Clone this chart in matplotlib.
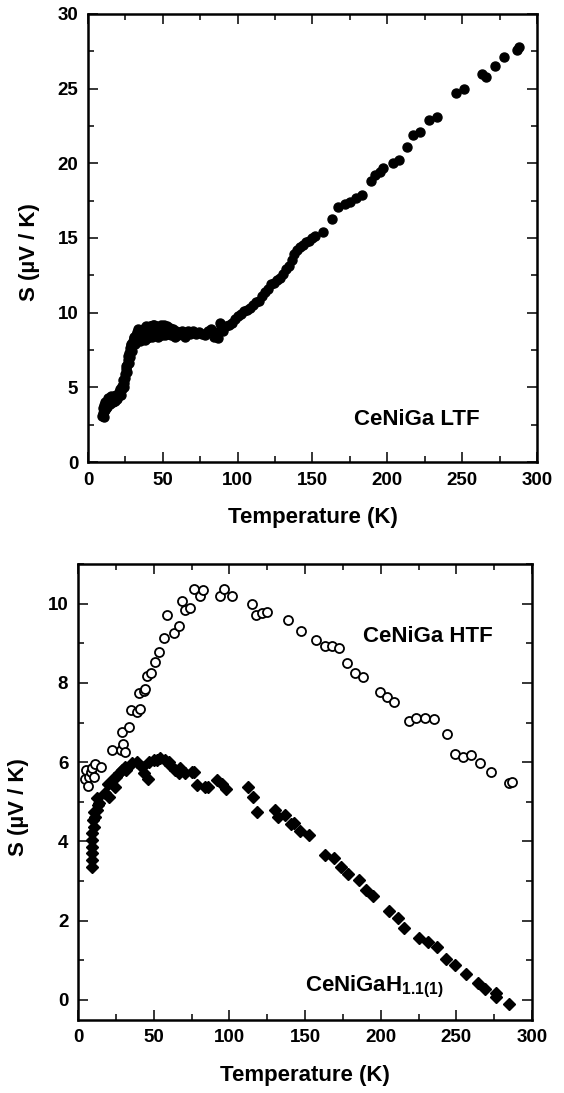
import matplotlib
matplotlib.use("Agg")
import matplotlib.pyplot as plt
from matplotlib.ticker import MultipleLocator

# CeNiGa LTF (top panel)
ltf_T = [9.5, 10.0, 10.2, 10.5, 11, 11.5, 12, 12.5, 13, 14, 15, 16, 17, 18, 19, 20,
         21, 22, 23, 24, 24.5, 25, 25.5, 26, 26.5, 27, 27.5, 28, 29, 30, 30.5, 31,
         32, 33, 34, 35, 36, 37, 38, 39, 40, 41, 42, 43, 44, 45, 46, 47, 48, 49,
         50, 51, 52, 53, 54, 55, 56, 57, 58, 59, 60, 62, 64, 66, 68, 70, 72, 74,
         76, 78, 80, 82, 84, 86, 87, 88, 89, 90, 92, 94, 96, 98, 100, 102, 104,
         106, 108, 110, 112, 114, 116, 118, 120, 122, 124, 126, 128, 130, 132,
         134, 136, 138, 140, 142, 144, 146, 148, 150, 152, 157, 163, 167, 172,
         175, 179, 183, 189, 192, 195, 197, 204, 208, 213, 217, 222, 228, 233,
         246, 251, 263, 266, 272, 278, 287, 288,
         10.8, 11.2, 12.2, 13.5, 14.5, 15.5, 16.5, 17.5, 18.5, 19.5, 20.5, 21.5,
         22.5, 23.5, 24.2, 25.2, 26.2, 27.2, 28.2, 28.8, 29.5, 31.5, 32.5, 33.5,
         34.5, 35.5, 36.5, 37.5, 38.5, 39.5, 40.5, 41.5, 42.5, 43.5, 44.5, 45.5,
         46.5, 47.5, 48.5, 49.5, 50.5, 51.5, 52.5, 53.5, 54.5, 55.5, 57.5, 61, 63,
         65, 67]
ltf_S = [3.1, 3.3, 3.6, 3.0, 3.8, 3.5, 3.9, 3.7, 4.0, 4.1, 3.9, 4.2, 4.3, 4.1, 4.3, 4.4,
         4.6, 4.5, 4.9, 5.3, 5.6, 5.9, 6.2, 6.5, 6.8, 7.1, 7.3, 7.6, 7.8, 8.1, 8.4, 8.3,
         8.5, 8.7, 8.4, 8.8, 8.5, 8.9, 8.2, 8.8, 9.0, 8.6, 9.1, 8.8, 9.2, 8.5, 8.9, 9.0, 8.6, 9.1,
         8.8, 9.0, 8.6, 9.1, 8.7, 8.9, 8.6, 8.9, 8.4, 8.8, 8.5, 8.7, 8.6, 8.7, 8.6, 8.8, 8.6, 8.7,
         8.6, 8.5, 8.8, 8.9, 8.4, 8.7, 8.3, 9.3, 9.2, 8.8, 9.1, 9.2, 9.3, 9.6, 9.8, 9.9, 10.1,
         10.2, 10.3, 10.5, 10.7, 10.8, 11.1, 11.4, 11.6, 11.9, 12.0, 12.2, 12.3, 12.6, 12.9,
         13.1, 13.5, 13.9, 14.2, 14.4, 14.5, 14.7, 14.8, 15.0, 15.1, 15.4, 16.3, 17.1, 17.3,
         17.4, 17.7, 17.9, 18.8, 19.2, 19.4, 19.7, 20.0, 20.2, 21.1, 21.9, 22.1, 22.9, 23.1,
         24.7, 25.0, 26.0, 25.8, 26.5, 27.1, 27.6, 27.8,
         3.4, 4.0, 3.6, 4.3, 4.0, 4.4, 4.0, 4.4, 4.5, 4.2, 4.7, 4.9,
         5.1, 5.5, 5.0, 6.4, 6.0, 6.6, 7.0, 7.9, 7.4, 7.9, 8.1, 8.9,
         8.1, 8.3, 8.7, 8.3, 9.1, 8.3, 8.4, 9.1, 8.4, 9.2, 8.6, 9.1,
         8.4, 8.7, 9.2, 8.5, 9.2, 8.5, 8.9, 8.6, 9.0, 8.5, 8.6, 8.6, 8.8,
         8.4, 8.8]

# CeNiGa HTF (bottom panel, open circles)
htf_T = [4.5, 5.5, 6.5, 7.0, 8.5, 9.5, 10.5, 11.5, 15.0, 22.2, 28.5, 29.5, 31.0, 29.0,
         33.5, 35.3, 39.3, 41.2, 40.1, 43.4, 44.5, 45.6, 48.5, 51.1, 53.8, 56.7, 58.9,
         63.3, 66.6, 68.8, 71.0, 74.3, 76.5, 80.9, 82.4, 94.1, 96.3, 101.8, 115.0, 117.3,
         121.7, 125.0, 138.9, 147.5, 157.4, 162.9, 167.6, 172.3, 177.8, 183.0, 188.2,
         199.5, 204.3, 209.0, 218.4, 223.2, 229.0, 235.0, 244.0, 249.2, 254.4, 260.0,
         265.7, 272.8, 285.0, 286.5]
htf_S = [5.58, 5.80, 5.40, 5.62, 5.75, 5.85, 5.62, 5.95, 5.88, 6.30, 6.30, 6.45, 6.25, 6.76,
         6.88, 7.32, 7.27, 7.35, 7.75, 7.79, 7.85, 8.17, 8.25, 8.53, 8.77, 9.13, 9.72,
         9.26, 9.43, 10.08, 9.85, 9.89, 10.37, 10.19, 10.35, 10.20, 10.37, 10.20, 9.98, 9.72,
         9.76, 9.78, 9.60, 9.30, 9.08, 8.92, 8.92, 8.88, 8.50, 8.24, 8.14,
         7.78, 7.64, 7.51, 7.05, 7.12, 7.12, 7.10, 6.72, 6.21, 6.13, 6.17,
         5.98, 5.75, 5.48, 5.50]

# CeNiGaH1.1(1) (bottom panel, filled diamonds)
hyd_T = [9.3, 9.3, 9.3, 9.2, 9.3, 9.5, 10.4, 9.6, 10.8, 11.5, 12.6, 13.0, 12.6, 13.7,
         18.1, 20.1, 20.3, 24.7, 23.6, 24.8, 26.9, 29.1, 31.3, 31.9, 35.7, 39.0, 42.3,
         43.4, 46.0, 46.8, 50.1, 52.0, 54.5, 57.8, 60.2, 61.1, 64.4, 66.6, 67.3, 71.0,
         75.4, 76.8, 78.7, 84.2, 86.2, 92.1, 95.0, 98.0, 112.2, 115.8, 118.2, 130.0,
         132.3, 136.9, 140.6, 142.4, 146.5, 152.8, 163.0, 168.9, 173.6, 178.3, 185.4,
         190.2, 194.9, 205.5, 211.4, 215.7, 225.6, 231.5, 236.9, 243.3, 249.2, 256.3,
         264.6, 268.6, 276.4, 276.4, 284.7]
hyd_S = [3.36, 3.53, 3.70, 3.86, 4.03, 4.20, 4.37, 4.54, 4.75, 4.62, 4.79, 4.91, 5.09, 4.96,
         5.21, 5.46, 5.13, 5.38, 5.59, 5.63, 5.72, 5.80, 5.88, 5.79, 5.97, 6.01, 5.88,
         5.72, 5.58, 6.01, 6.05, 6.05, 6.10, 6.05, 6.00, 5.93, 5.80, 5.72, 5.84, 5.72,
         5.76, 5.75, 5.42, 5.38, 5.37, 5.54, 5.45, 5.33, 5.37, 5.12, 4.75, 4.79,
         4.62, 4.66, 4.45, 4.47, 4.27, 4.16, 3.66, 3.57, 3.36, 3.18, 3.03,
         2.76, 2.61, 2.23, 2.06, 1.81, 1.55, 1.47, 1.33, 1.03, 0.87, 0.66,
         0.42, 0.27, 0.18, 0.08, -0.10]

plt.rcParams['font.family'] = ['Liberation Sans', 'DejaVu Sans']
plt.rcParams['font.weight'] = 'bold'
plt.rcParams['mathtext.fontset'] = 'custom'
plt.rcParams['mathtext.rm'] = 'Liberation Sans'
plt.rcParams['mathtext.bf'] = 'Liberation Sans:bold'

fig = plt.figure(figsize=(5.64, 10.93), dpi=100)
ax1 = fig.add_axes([0.156, 0.5773, 0.796, 0.41])
ax2 = fig.add_axes([0.1383, 0.0672, 0.805, 0.4167])


def style(ax):
    for s in ax.spines.values():
        s.set_linewidth(1.8)
    ax.tick_params(which='both', direction='in', top=True, right=True,
                   width=1.1, labelsize=13.5, pad=7)
    ax.tick_params(which='major', length=7.2)
    ax.tick_params(which='minor', length=4.3)
    ax.xaxis.set_major_locator(MultipleLocator(50))
    ax.xaxis.set_minor_locator(MultipleLocator(25))
    for lab in ax.get_xticklabels() + ax.get_yticklabels():
        lab.set_fontweight('bold')


ax1.plot(ltf_T, ltf_S, 'o', color='black', ms=6.5, mec='black')
ax1.set_xlim(0, 300)
ax1.set_ylim(0, 30)
ax1.yaxis.set_major_locator(MultipleLocator(5))
ax1.yaxis.set_minor_locator(MultipleLocator(2.5))
style(ax1)
ax1.set_xlabel('Temperature (K)', fontsize=16, fontweight='bold')
ax1.set_ylabel('S (µV / K)', fontsize=16, fontweight='bold')
ax1.xaxis.set_label_coords(0.5, -0.10)
ax1.yaxis.set_label_coords(-0.107, 0.469)
ax1.text(178, 2.5, 'CeNiGa LTF', fontsize=16, fontweight='bold', ha='left', va='baseline')

ax2.plot(htf_T, htf_S, 'o', mfc='white', mec='black', mew=1.3, ms=6.5)
ax2.plot(hyd_T, hyd_S, 'D', color='black', ms=6.3)
ax2.set_xlim(0, 300)
ax2.set_ylim(-0.5, 11)
ax2.yaxis.set_major_locator(MultipleLocator(2))
ax2.yaxis.set_minor_locator(MultipleLocator(1))
style(ax2)
ax2.set_xlabel('Temperature (K)', fontsize=16, fontweight='bold')
ax2.set_ylabel('S (µV / K)', fontsize=16, fontweight='bold')
ax2.xaxis.set_label_coords(0.5, -0.10)
ax2.yaxis.set_label_coords(-0.108, 0.466)
ax2.text(188, 9.04, 'CeNiGa HTF', fontsize=16, fontweight='bold', ha='left', va='baseline')
ax2.text(150, 0.21, r'CeNiGaH$_{\mathrm{1.1(1)}}$', fontsize=16, fontweight='bold',
         ha='left', va='baseline')

fig.savefig('out.png', dpi=100)
